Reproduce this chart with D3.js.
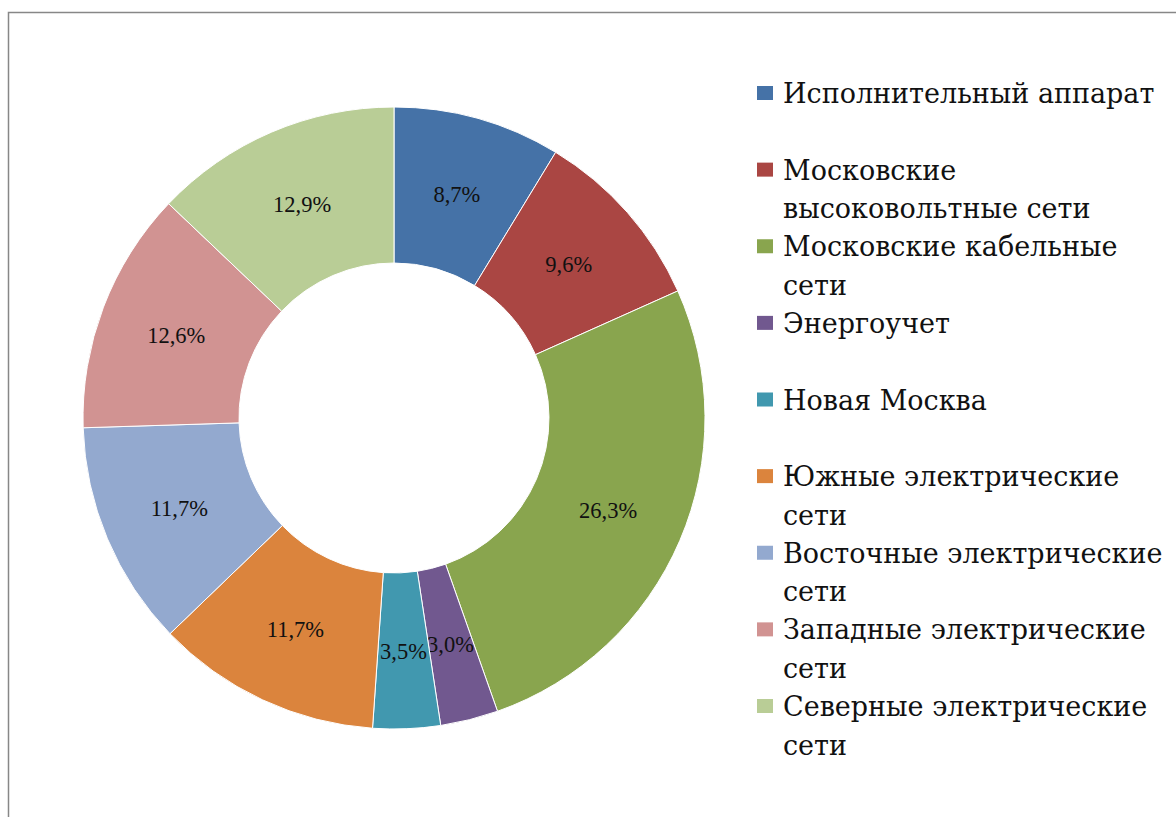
<!DOCTYPE html>
<html>
<head>
<meta charset="utf-8">
<script src="https://cdn.jsdelivr.net/npm/d3@7"></script>
<style>
  body { margin: 0; background: #fff; }
  svg { display: block; font-family: "Liberation Serif", "DejaVu Serif", serif; }
  .legend text { font-family: "DejaVu Serif", "Liberation Serif", serif; }
</style>
</head>
<body>
<svg id="chart"></svg>
<script>
'use strict';

var categories = [
    "Исполнительный аппарат",
    "Московские высоковольтные сети",
    "Московские кабельные сети",
    "Энергоучет",
    "Новая Москва",
    "Южные электрические сети",
    "Восточные электрические сети",
    "Западные электрические сети",
    "Северные электрические сети"
];

// legend text as it is broken into lines in the picture
var legendLines = [
    ["Исполнительный аппарат"],
    ["Московские", "высоковольтные сети"],
    ["Московские кабельные", "сети"],
    ["Энергоучет"],
    ["Новая Москва"],
    ["Южные электрические", "сети"],
    ["Восточные электрические", "сети"],
    ["Западные электрические", "сети"],
    ["Северные электрические", "сети"]
];

var shares = [8.7, 9.6, 26.3, 3.0, 3.5, 11.7, 11.7, 12.6, 12.9];

var colors = ["#4572a7", "#aa4643", "#89a54e", "#71588f", "#4198af",
              "#db843d", "#93a9cf", "#d19392", "#b9cd96"];

function show_donut() {
    var width = 1176,
        height = 817,
        cx = 394,
        cy = 418,
        outer = 311,
        inner = 155;

    var ru = d3.formatLocale({decimal: ",", thousands: " ", grouping: [3], currency: ["", ""]});
    var fmt = ru.format(".1f");

    var color = d3.scaleOrdinal().domain(categories).range(colors);

    var svg = d3.select("#chart")
                .attr("width", width)
                .attr("height", height);

    // chart frame, runs off the right and bottom edges
    svg.append("rect")
        .attr("x", 8.5)
        .attr("y", 12.5)
        .attr("width", 1300)
        .attr("height", 1000)
        .attr("fill", "none")
        .attr("stroke", "#878787")
        .attr("stroke-width", 1.5);

    var data = categories.map(function(c, i) { return {name: c, value: shares[i]}; });

    var pie = d3.pie()
                .sort(null)
                .value(function(d) { return d.value; });

    var arc = d3.arc()
                .outerRadius(outer)
                .innerRadius(inner);

    var g = svg.append("g")
                .attr("transform", "translate(" + cx + "," + cy + ")");

    var slices = g.selectAll(".arc")
                    .data(pie(data))
                .enter().append("g")
                    .attr("class", "arc");

    slices.append("path")
        .attr("d", arc)
        .attr("fill", function(d) { return color(d.data.name); })
        .attr("stroke", "#fff")
        .attr("stroke-width", 1);

    slices.append("text")
        .attr("transform", function(d) { return "translate(" + arc.centroid(d) + ")"; })
        .attr("dy", "0.35em")
        .attr("text-anchor", "middle")
        .attr("font-size", 22.5)
        .attr("fill", "#111")
        .text(function(d) { return fmt(d.data.value) + "%"; });

    // legend
    var ly = d3.scalePoint()
                .domain(categories)
                .range([103, 716]);

    var legend = svg.selectAll(".legend")
                    .data(categories)
                .enter().append("g")
                    .attr("class", "legend")
                    .attr("transform", function(d) { return "translate(757," + ly(d) + ")"; });

    legend.append("rect")
        .attr("x", 0)
        .attr("y", -17)
        .attr("width", 16)
        .attr("height", 14)
        .attr("fill", function(d) { return color(d); });

    legend.append("text")
        .attr("x", 26)
        .attr("font-size", 27)
        .attr("fill", "#111")
        .selectAll("tspan")
            .data(function(d, i) { return legendLines[i]; })
        .enter().append("tspan")
            .attr("x", 26)
            .attr("dy", function(d, i) { return i ? 38.5 : 0; })
            .text(function(d) { return d; });
}

show_donut();
</script>
</body>
</html>
